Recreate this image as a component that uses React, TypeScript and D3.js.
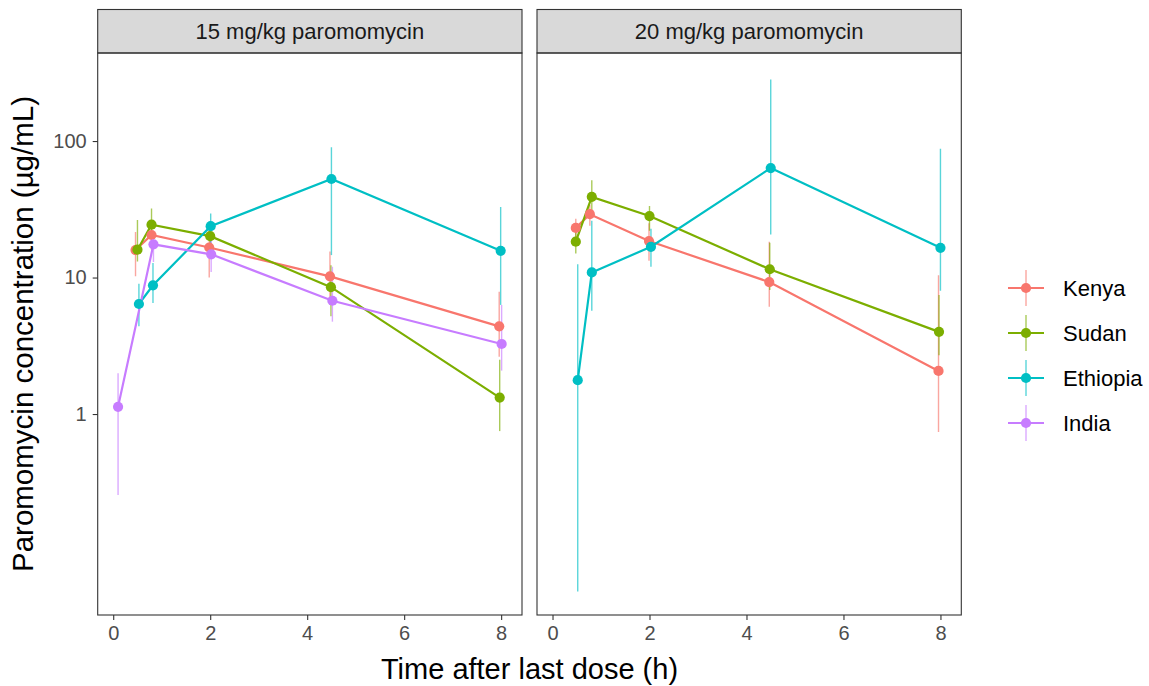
import { useEffect, useRef } from 'react'
import * as d3 from 'd3'

// facets and series
const panelLabels = ['15 mg/kg paromomycin', '20 mg/kg paromomycin']
const countries = ['Kenya', 'Sudan', 'Ethiopia', 'India']
const countryColors = ['#F8766D', '#7CAE00', '#00BFC4', '#C77CFF']

// 15 mg/kg, one row per country (Kenya, Sudan, Ethiopia, India)
const time15 = [
  [0.46, 0.79, 1.98, 4.47, 7.96],
  [0.5, 0.79, 2.0, 4.49, 7.97],
  [0.53, 0.82, 2.01, 4.5, 7.99],
  [0.1, 0.83, 2.02, 4.52, 8.01],
]
const conc15 = [
  [15.9, 20.5, 16.6, 10.2, 4.39],
  [16.0, 24.4, 20.1, 8.5, 1.32],
  [6.4, 8.77, 23.8, 52.7, 15.7],
  [1.13, 17.5, 14.8, 6.76, 3.26],
]
const lower15 = [
  [10.2, 16.0, 10.0, 6.5, 2.63],
  [13.1, 20.5, 15.0, 5.2, 0.75],
  [4.4, 6.5, 18.0, 14.6, 6.3],
  [0.255, 13.0, 11.0, 4.75, 2.08],
]
const upper15 = [
  [21.6, 26.0, 23.5, 15.5, 7.86],
  [26.4, 32.0, 26.0, 12.3, 2.5],
  [9.0, 12.8, 29.5, 90.0, 32.9],
  [1.99, 22.0, 19.0, 12.0, 6.3],
]

// 20 mg/kg (no India data)
const time20 = [
  [0.48, 0.77, 1.99, 4.47, 7.96],
  [0.48, 0.81, 2.0, 4.48, 7.97],
  [0.52, 0.81, 2.03, 4.5, 8.0],
  [],
]
const conc20 = [
  [23.1, 29.1, 18.5, 9.27, 2.07],
  [18.3, 39.0, 28.2, 11.5, 4.0],
  [1.77, 10.9, 16.8, 63.4, 16.5],
  [],
]
const lower20 = [
  [19.0, 24.0, 13.3, 6.1, 0.74],
  [15.0, 30.0, 22.0, 8.1, 2.7],
  [0.05, 5.7, 12.0, 20.7, 8.0],
  [],
]
const upper20 = [
  [27.0, 34.0, 25.0, 18.3, 10.4],
  [22.0, 51.7, 33.4, 18.0, 7.44],
  [12.5, 26.1, 22.8, 283, 87.8],
  [],
]

const xTicks = [0, 2, 4, 6, 8]
const yTicks = [1, 10, 100]

interface Obs {
  t: number
  c: number
  lo: number
  hi: number
}

function buildPanel(times: number[][], conc: number[][], lo: number[][], hi: number[][]) {
  return countries.map((name, i) => ({
    name,
    color: countryColors[i],
    points: times[i].map((t, j) => ({ t, c: conc[i][j], lo: lo[i][j], hi: hi[i][j] }) as Obs),
  }))
}

const FONT = '"Liberation Sans", Arial, sans-serif'

export default function App() {
  const svgRef = useRef<SVGSVGElement>(null)
  const width = 1149
  const height = 686

  useEffect(() => {
    if (!svgRef.current) return
    const svg = d3.select(svgRef.current)
    svg.selectAll('*').remove()

    const panels = [
      buildPanel(time15, conc15, lower15, upper15),
      buildPanel(time20, conc20, lower20, upper20),
    ]

    const panelTop = 53
    const panelBottom = 615
    const stripTop = 9.5
    const panelLefts = [97.7, 537]
    const panelW = 424.3

    const y = d3.scaleLog().domain([0.0337, 441.6]).range([panelBottom, panelTop])

    panels.forEach((series, p) => {
      const left = panelLefts[p]
      const x = d3.scaleLinear().domain([-0.32, 8.43]).range([left, left + panelW])
      const g = svg.append('g')

      // strip
      g.append('rect')
        .attr('x', left)
        .attr('y', stripTop)
        .attr('width', panelW)
        .attr('height', panelTop - stripTop)
        .attr('fill', '#D9D9D9')
        .attr('stroke', '#333333')
        .attr('stroke-width', 1.1)
      g.append('text')
        .attr('x', left + panelW / 2)
        .attr('y', (stripTop + panelTop) / 2)
        .attr('dy', '0.35em')
        .attr('text-anchor', 'middle')
        .attr('font-size', 22)
        .attr('fill', '#1A1A1A')
        .text(panelLabels[p])

      // clip so long bars stay inside the panel
      const clipId = `clip-${p}`
      svg.append('clipPath').attr('id', clipId)
        .append('rect')
        .attr('x', left).attr('y', panelTop)
        .attr('width', panelW).attr('height', panelBottom - panelTop)

      const marks = g.append('g').attr('clip-path', `url(#${clipId})`)

      // error bars
      series.forEach(s => {
        marks.selectAll(null)
          .data(s.points)
          .join('line')
          .attr('x1', d => x(d.t))
          .attr('x2', d => x(d.t))
          .attr('y1', d => y(d.lo))
          .attr('y2', d => y(d.hi))
          .attr('stroke', s.color)
          .attr('stroke-opacity', 0.65)
          .attr('stroke-width', 1.4)
      })

      // lines
      const line = d3.line<Obs>().x(d => x(d.t)).y(d => y(d.c))
      series.forEach(s => {
        if (s.points.length === 0) return
        marks.append('path')
          .attr('d', line(s.points))
          .attr('fill', 'none')
          .attr('stroke', s.color)
          .attr('stroke-width', 2.2)
      })

      // points
      series.forEach(s => {
        marks.selectAll(null)
          .data(s.points)
          .join('circle')
          .attr('cx', d => x(d.t))
          .attr('cy', d => y(d.c))
          .attr('r', 5.1)
          .attr('fill', s.color)
      })

      // panel border
      g.append('rect')
        .attr('x', left)
        .attr('y', panelTop)
        .attr('width', panelW)
        .attr('height', panelBottom - panelTop)
        .attr('fill', 'none')
        .attr('stroke', '#333333')
        .attr('stroke-width', 1.1)

      // x axis
      const xAxis = g.append('g')
        .attr('transform', `translate(0,${panelBottom})`)
        .call(d3.axisBottom(x).tickValues(xTicks).tickSize(5).tickPadding(6).tickFormat(d3.format('d')))
      xAxis.select('.domain').remove()
      xAxis.selectAll('.tick line').attr('stroke', '#333333').attr('stroke-width', 1.1)
      xAxis.selectAll('.tick text')
        .attr('fill', '#4D4D4D')
        .attr('font-size', 20)
        .attr('font-family', FONT)

      // y axis only on first panel
      if (p === 0) {
        const yAxis = g.append('g')
          .attr('transform', `translate(${left},0)`)
          .call(d3.axisLeft(y).tickValues(yTicks).tickSize(5).tickPadding(6).tickFormat(d3.format('d')))
        yAxis.select('.domain').remove()
        yAxis.selectAll('.tick line').attr('stroke', '#333333').attr('stroke-width', 1.1)
        yAxis.selectAll('.tick text')
          .attr('fill', '#4D4D4D')
          .attr('font-size', 20)
          .attr('font-family', FONT)
      }
    })

    // axis titles
    svg.append('text')
      .attr('x', (panelLefts[0] + panelLefts[1] + panelW) / 2)
      .attr('y', 679)
      .attr('text-anchor', 'middle')
      .attr('font-size', 29)
      .attr('fill', '#000000')
      .text('Time after last dose (h)')

    svg.append('text')
      .attr('transform', `translate(33,${(panelTop + panelBottom) / 2}) rotate(-90)`)
      .attr('text-anchor', 'middle')
      .attr('font-size', 29.5)
      .attr('fill', '#000000')
      .text('Paromomycin concentration (µg/mL)')

    // legend
    const legend = svg.append('g').attr('transform', 'translate(1026,288)')
    countries.forEach((name, i) => {
      const row = legend.append('g').attr('transform', `translate(0,${i * 45})`)
      row.append('line')
        .attr('x1', 0).attr('x2', 0).attr('y1', -18).attr('y2', 18)
        .attr('stroke', countryColors[i]).attr('stroke-opacity', 0.65).attr('stroke-width', 1.4)
      row.append('line')
        .attr('x1', -18).attr('x2', 18).attr('y1', 0).attr('y2', 0)
        .attr('stroke', countryColors[i]).attr('stroke-width', 2.2)
      row.append('circle').attr('r', 5.1).attr('fill', countryColors[i])
      row.append('text')
        .attr('x', 37)
        .attr('dy', '0.35em')
        .attr('font-size', 22)
        .attr('fill', '#000000')
        .text(name)
    })
  }, [])

  return (
    <svg
      ref={svgRef}
      width={width}
      height={height}
      style={{ position: 'absolute', left: 0, top: 0, background: '#ffffff', fontFamily: FONT }}
    />
  )
}
